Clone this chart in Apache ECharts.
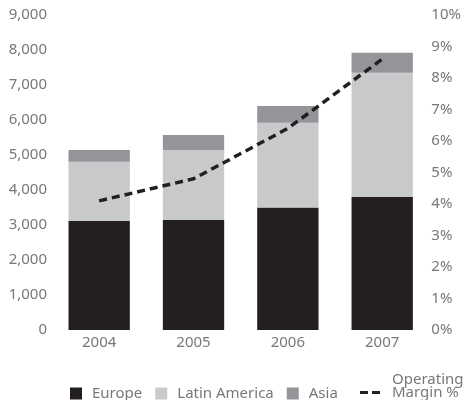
<!DOCTYPE html>
<html>
<head>
<meta charset="utf-8">
<script src="https://cdn.jsdelivr.net/npm/echarts@6/dist/echarts.min.js"></script>
<style>
  html, body { margin: 0; padding: 0; background: #fff; }
  #chart { width: 464px; height: 400px; }
</style>
</head>
<body>
<div id="chart"></div>
<script>
const chartDom = document.getElementById('chart');
const myChart = echarts.init(chartDom);

// categories
let years = ['2004', '2005', '2006', '2007'];
// revenue by region (stacked)
let europe = [3120, 3140, 3500, 3810];
let latinAmerica = [1690, 2000, 2420, 3540];
let asia = [330, 430, 480, 570];
// operating margin, %
let margin = [4.1, 4.8, 6.4, 8.6];

const textGray = '#77787b';
const font = 'Noto Sans';

function thousands(v) {
    return String(v).replace(/\B(?=(\d{3})+(?!\d))/g, ',');
}

let option = {
    animation: false,
    textStyle: { fontFamily: font },
    grid: {
        left: 52,
        right: 31,
        top: 15,
        bottom: 70
    },
    legend: [
        {
            data: ['Europe', 'Latin America', 'Asia'],
            left: 70,
            top: 386,
            padding: 0,
            itemWidth: 12,
            itemHeight: 12,
            itemGap: 13,
            icon: 'rect',
            textStyle: {
                color: textGray,
                fontSize: 15,
                fontFamily: font,
                padding: [0, 0, 0, 5]
            }
        },
        {
            data: ['Operating\nMargin %'],
            left: 360,
            top: 372,
            padding: 0,
            itemWidth: 20,
            itemHeight: 3,
            icon: 'path://M0,0h8v3h-8z M12,0h8v3h-8z',
            itemStyle: { color: '#231f20' },
            // empty third line keeps "Margin %" level with the dashes
            formatter: name => name + '\n ',
            textStyle: {
                color: textGray,
                fontSize: 15,
                lineHeight: 13,
                fontFamily: font,
                padding: [0, 0, 0, 7]
            }
        }
    ],
    xAxis: {
        type: 'category',
        data: years,
        axisLine: { show: false },
        axisTick: { show: false },
        axisLabel: {
            color: textGray,
            fontSize: 15,
            margin: 5
        }
    },
    yAxis: [
        {
            type: 'value',
            min: 0,
            max: 9000,
            interval: 1000,
            splitLine: { show: false },
            axisLine: { show: false },
            axisTick: { show: false },
            axisLabel: {
                color: textGray,
                fontSize: 15,
                margin: 5,
                formatter: thousands
            }
        },
        {
            type: 'value',
            min: 0,
            max: 10,
            interval: 1,
            splitLine: { show: false },
            axisLine: { show: false },
            axisTick: { show: false },
            axisLabel: {
                color: textGray,
                fontSize: 15,
                margin: 2,
                formatter: '{value}%'
            }
        }
    ],
    series: [
        {
            name: 'Europe',
            type: 'bar',
            stack: 'total',
            barWidth: '65%',
            itemStyle: { color: '#231f20' },
            data: europe
        },
        {
            name: 'Latin America',
            type: 'bar',
            stack: 'total',
            itemStyle: { color: '#c8c9cb' },
            data: latinAmerica
        },
        {
            name: 'Asia',
            type: 'bar',
            stack: 'total',
            itemStyle: { color: '#939598' },
            data: asia
        },
        {
            name: 'Operating\nMargin %',
            type: 'line',
            yAxisIndex: 1,
            symbol: 'none',
            itemStyle: { color: '#231f20' },
            lineStyle: {
                color: '#231f20',
                width: 3.5,
                type: [8, 5]
            },
            z: 5,
            data: margin
        }
    ]
};

myChart.setOption(option);
</script>
</body>
</html>
